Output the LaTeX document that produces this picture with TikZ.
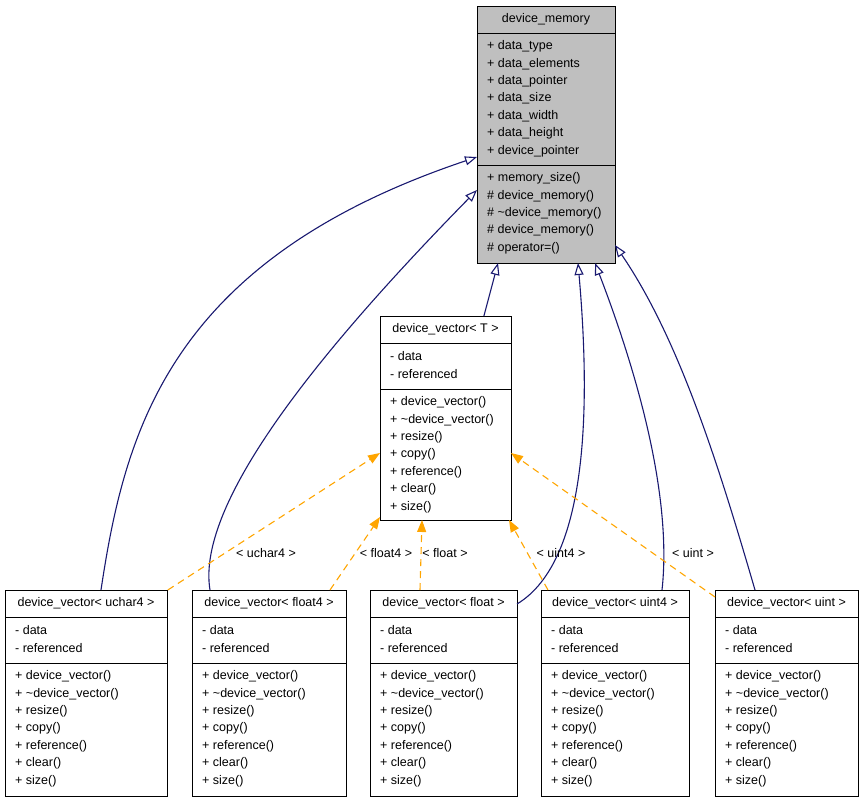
\documentclass[tikz,border=0pt]{standalone}
\usepackage{fontspec}
\setmainfont{Liberation Sans}
\usetikzlibrary{arrows.meta,positioning}
\definecolor{inhblue}{RGB}{25,25,112}
\definecolor{tmplorange}{RGB}{255,165,0}
\tikzset{class box/.style={rectangle,draw,thick,inner sep=0pt,anchor=north west},
         member/.style={anchor=west,inner sep=0pt,font=\fontsize{12.5}{12.5}\selectfont},
         class title/.style={inner sep=0pt,font=\fontsize{12.5}{12.5}\selectfont},
         inherit/.style={inhblue,line width=1.1pt,-{Triangle[open,length=12pt,width=9pt]}},
         bind/.style={tmplorange,line width=1.1pt,dashed,dash pattern=on 7pt off 5pt,-{Triangle[length=12pt,width=9pt]}},
         bind label/.style={inner sep=0pt,font=\fontsize{12.5}{12.5}\selectfont},
}
% \classbox{name}{fill}{x}{y}{w}{title}{attr y}{meth y}{bottom}{attrs}{methods}
\newcommand{\classbox}[9]{%
  \node[class box,fill=#2,minimum width=#5pt,minimum height=#9pt] (#1) at (#3,#4) {};
  \node[class title] (#1-title) at ($(#3,#4)+(#5/2,13.5)$) {#6};
  \draw[thick] (#3,#4+27) -- ++(#5,0);
  \draw[thick] (#3,#7) -- ++(#5,0);
  \def\cbx{#3}\def\cbya{#4}\def\cbyb{#7}}
\newcommand{\classmembers}[2]{%
  \foreach \m [count=\i] in {#1} \node[member] at (\cbx+10,\cbya+27+17.4*\i-4) {\m};
  \foreach \m [count=\i] in {#2} \node[member] at (\cbx+10,\cbyb+17.4*\i-4) {\m};}
\usetikzlibrary{calc}
\begin{document}
\begin{tikzpicture}[x=1pt,y=-1pt]
\useasboundingbox (0,0) rectangle (864,803);
% base class
\classbox{mem}{black!25}{477}{6}{138}{device\_memory}{165}{0}{257}
\classmembers{+ data\_type,+ data\_elements,+ data\_pointer,+ data\_size,+ data\_width,+ data\_height,+ device\_pointer}
  {+ memory\_size(),\# device\_memory(),\# \textasciitilde device\_memory(),\# device\_memory(),\# operator=()}
% template
\classbox{tmpl}{white}{380}{316}{131}{device\_vector< T >}{389}{0}{204}
\classmembers{- data,- referenced}
  {+ device\_vector(),+ \textasciitilde device\_vector(),+ resize(),+ copy(),+ reference(),+ clear(),+ size()}
% instances
\foreach \nm/\x/\w/\t in {uchar/5/162/uchar4,floatf/192/154/float4,float/370/147/float,uintf/541/148/uint4,uint/715/143/uint}{
  \classbox{\nm}{white}{\x}{590}{\w}{device\_vector< \t\ >}{663}{0}{206}
  \classmembers{- data,- referenced}
    {+ device\_vector(),+ \textasciitilde device\_vector(),+ resize(),+ copy(),+ reference(),+ clear(),+ size()}
}
% inheritance
\coordinate (c1) at (101,590);
\coordinate (c2) at (210,590);
\coordinate (c3) at (517,604);
\coordinate (c4) at (662,590);
\coordinate (c5) at (755,590);
\draw[inherit] (c1) .. controls (125,430) and (170,260) .. (mem.west |- 0,157);
\draw[inherit] (c2) .. controls (195,500) and (330,340) .. (mem.west |- 0,190);
\draw[inherit] (tmpl.north) ++(38,0) -- (498,263);
\draw[inherit] (c3) .. controls (590,560) and (590,400) .. (578,263);
\draw[inherit] (c4) .. controls (672,500) and (640,380) .. (595,263);
\draw[inherit] (c5) .. controls (720,470) and (680,340) .. (615,245);
% template bindings
\draw[bind] (uchar.north east) -- (380,453);
\draw[bind] (330,590) -- (380,517);
\draw[bind] (420,590) -- (422,520);
\draw[bind] (548,590) -- (509,520);
\draw[bind] (715,597) -- (511,453);
\node[bind label] (l1) at (266,553) {< uchar4 >};
\node[bind label] (l2) at (386,553) {< float4 >};
\node[bind label] (l3) at (445,553) {< float >};
\node[bind label] (l4) at (561,553) {< uint4 >};
\node[bind label] (l5) at (693,553) {< uint >};
\end{tikzpicture}
\end{document}
